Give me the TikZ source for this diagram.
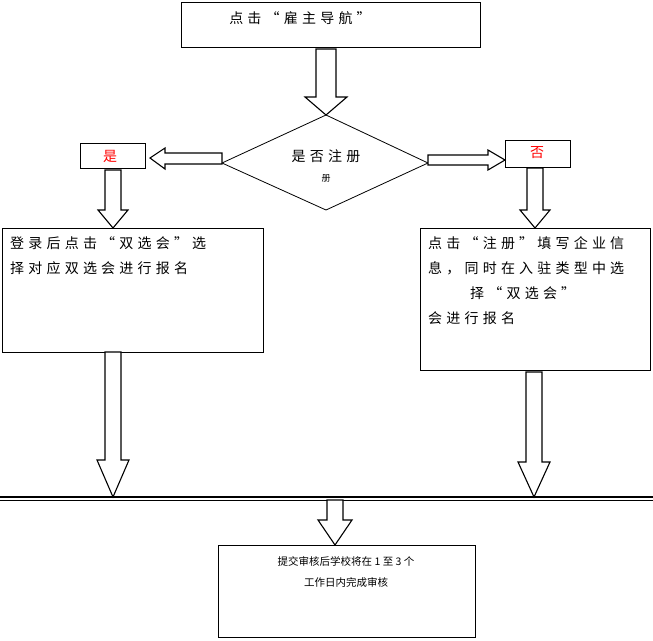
\documentclass[tikz,border=0pt]{standalone}
\usepackage{fontspec}
\newfontfamily\cjk[LetterSpace=30]{Noto Sans CJK SC}
\newfontfamily\cjksmall{Noto Sans CJK SC}
\usetikzlibrary{positioning}

% fat down arrow: x centre, shaft top, shaft bottom, half shaft, half head, tip
\newcommand{\downarrowfat}[6]{%
  \draw [fat] (#1-#4,#2) -- (#1+#4,#2) -- (#1+#4,#3) -- (#1+#5,#3) -- (#1,#6)
    -- (#1-#5,#3) -- (#1-#4,#3) -- cycle;}

\begin{document}
\begin{tikzpicture}[x=1pt,y=-1pt,
  fat/.style={draw=black,line width=1.1pt,fill=white},
  box/.style={draw=black,line width=0.8pt,inner sep=0pt},
  txt/.style={font=\cjk\fontsize{14}{25}\selectfont,inner sep=0pt}]
\useasboundingbox (0,0) rectangle (653,640);

% top
\draw [box] (181,2) rectangle (480,47);
\node [txt] (nav) at (300,18) {点击“雇主导航”};
\downarrowfat{326}{49}{97}{10}{21}{115}

% decision
\draw [box] (326,115) -- (428,163) -- (326,210) -- (222,163) -- cycle;
\node [txt] (reg) at (326,156) {是否注册};
\node [txt,font=\cjk\fontsize{9}{9}\selectfont] (reg2) at (326,178) {册};

% left branch
\draw [fat] (222,153) -- (165,153) -- (165,148) -- (150,158) -- (165,169)
  -- (165,164) -- (222,164) -- cycle;
\draw [box] (80,143) rectangle (145,168);
\node [txt,text=red] (yes) at (110,156) {是};
\downarrowfat{113}{170}{210}{8}{15}{228}
\draw [box] (2,228) rectangle (263,352);
\node [txt,anchor=north west,align=left] (left) at (10,236)
  {登录后点击“双选会”选\\择对应双选会进行报名};
\downarrowfat{113}{352}{460}{8}{16}{497}

% right branch
\draw [fat] (428,155) -- (488,155) -- (488,150) -- (505,160) -- (488,170)
  -- (488,165) -- (428,165) -- cycle;
\draw [box] (505,140) rectangle (570,167);
\node [txt,text=red] (no) at (537,153) {否};
\downarrowfat{535}{168}{210}{8}{15}{228}
\draw [box] (420,228) rectangle (650,370);
\node [txt,anchor=north west,align=left] (right) at (428,236)
  {点击“注册”填写企业信\\息，同时在入驻类型中选\\\hspace*{3em}择“双选会”\\会进行报名};
\downarrowfat{534}{372}{462}{8}{16}{497}

% line
\draw [line width=1.2pt] (0,497) -- (653,497);
\draw [line width=0.5pt] (0,500) -- (653,500);

% bottom
\downarrowfat{335}{500}{520}{8}{17}{545}
\draw [box] (218,545) rectangle (475,637);
\node [txt,align=center,font=\cjksmall\fontsize{10.5}{21}\selectfont] (done) at (346,572)
  {提交审核后学校将在 1 至 3 个\\工作日内完成审核};
\end{tikzpicture}
\end{document}
